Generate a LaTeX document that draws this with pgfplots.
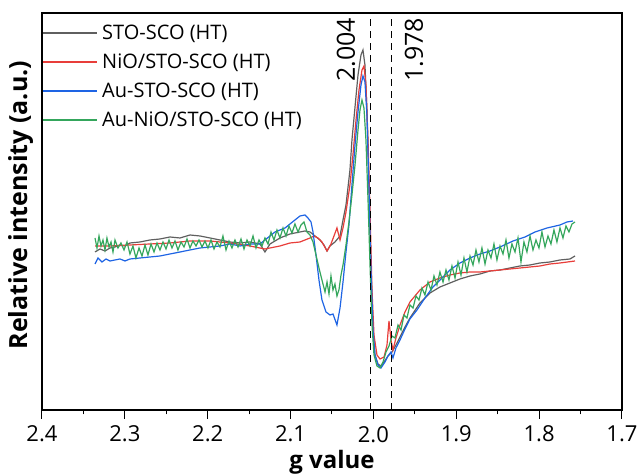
\documentclass[border=0pt]{standalone}
\usepackage{pgfplots}
\pgfplotsset{compat=1.18}
\usepackage{fontspec}
\setmainfont{Open Sans}
\definecolor{cgray}{RGB}{95,95,95}
\definecolor{cred}{RGB}{232,62,58}
\definecolor{cblue}{RGB}{30,100,228}
\definecolor{cgreen}{RGB}{52,166,92}
\begin{document}
\begin{tikzpicture}
\begin{axis}[
  scale only axis, width=290pt, height=198.5pt,
  x dir=reverse, xmin=1.7, xmax=2.4, ymin=-410, ymax=-13,
  xtick={1.7,1.8,1.9,2.0,2.1,2.2,2.3,2.4},
  xticklabels={1.7,1.8,1.9,2.0,2.1,2.2,2.3,2.4},
  minor x tick num=1, ytick=\empty,
  xtick pos=bottom, tick align=outside,
  major tick length=4.5pt, minor tick length=2.2pt,
  every tick/.style={black, line width=0.5pt},
  axis line style={line width=0.6pt},
  ticklabel style={font=\fontsize{11}{13}\selectfont},
  xlabel={\textbf{g value}}, ylabel={\textbf{Relative intensity (a.u.)}},
  xlabel style={at={(axis description cs:0.5,-0.131)}, anchor=center, font=\fontsize{12}{14}\selectfont},
  ylabel style={at={(axis description cs:-0.037,0.516)}, anchor=center, font=\fontsize{12.5}{15}\selectfont},
  legend style={at={(axis description cs:0,0.988)}, anchor=north west, draw=none, fill=none,
    font=\fontsize{10}{12}\selectfont, inner xsep=0pt, inner ysep=1.5pt, row sep=1.6pt},
  legend cell align=left,
  legend image code/.code={\draw[#1, line width=0.9pt] (0pt,0.3pt) -- (27pt,0.3pt);},
  every axis plot/.append style={line width=0.6pt},
  clip=false,
]
\addplot[color=cgray] coordinates {
(2.3360,-252) (2.3300,-249) (2.3240,-251) (2.3179,-248) (2.3119,-247) (2.3059,-245) (2.2998,-246) (2.2938,-243)
(2.2817,-242) (2.2697,-240) (2.2576,-239) (2.2455,-237) (2.2334,-238) (2.2214,-235) (2.2093,-236) (2.1972,-238)
(2.1852,-240) (2.1731,-242) (2.1610,-243) (2.1490,-242) (2.1369,-244) (2.1309,-252) (2.1248,-244) (2.1128,-238)
(2.1007,-234) (2.0886,-232) (2.0826,-231) (2.0765,-232) (2.0705,-236) (2.0645,-240) (2.0597,-245) (2.0560,-251)
(2.0524,-246) (2.0464,-242) (2.0403,-236) (2.0367,-220) (2.0331,-205) (2.0283,-170) (2.0259,-140) (2.0222,-107)
(2.0186,-75) (2.0150,-55) (2.0126,-50) (2.0102,-65) (2.0078,-110) (2.0053,-190) (2.0029,-270) (2.0005,-330)
(1.9981,-355) (1.9945,-364) (1.9909,-366) (1.9872,-362) (1.9824,-356) (1.9776,-352) (1.9728,-345) (1.9679,-337)
(1.9619,-327) (1.9559,-318) (1.9438,-303) (1.9317,-293) (1.9197,-287) (1.9076,-283) (1.8955,-279) (1.8834,-276)
(1.8714,-274) (1.8593,-271) (1.8472,-270) (1.8352,-268) (1.8231,-266) (1.8110,-265) (1.7990,-263) (1.7869,-262)
(1.7748,-260) (1.7628,-259) (1.7567,-256)
};
\addlegendentry{STO-SCO (HT)}
\addplot[color=cred] coordinates {
(2.3360,-246) (2.3179,-246) (2.2938,-245) (2.2697,-244) (2.2455,-243) (2.2214,-241) (2.1972,-241) (2.1731,-243)
(2.1490,-246) (2.1309,-249) (2.1248,-248) (2.1128,-246) (2.1007,-243) (2.0886,-242) (2.0765,-238) (2.0717,-236)
(2.0669,-238) (2.0621,-242) (2.0560,-251) (2.0512,-244) (2.0476,-236) (2.0440,-228) (2.0403,-240) (2.0367,-228)
(2.0331,-212) (2.0283,-185) (2.0247,-155) (2.0210,-120) (2.0174,-90) (2.0138,-70) (2.0114,-66) (2.0090,-85)
(2.0065,-140) (2.0041,-210) (2.0017,-290) (1.9993,-335) (1.9957,-355) (1.9921,-359) (1.9872,-357) (1.9836,-345)
(1.9812,-321) (1.9788,-340) (1.9764,-350) (1.9728,-338) (1.9679,-325) (1.9619,-312) (1.9559,-302) (1.9438,-290)
(1.9317,-282) (1.9197,-278) (1.9076,-275) (1.8955,-273) (1.8834,-272) (1.8714,-272) (1.8593,-271) (1.8472,-270)
(1.8352,-269) (1.8231,-268) (1.8110,-267) (1.7990,-266) (1.7869,-264) (1.7748,-263) (1.7567,-261)
};
\addlegendentry{NiO/STO-SCO (HT)}
\addplot[color=cblue] coordinates {
(2.3360,-264) (2.3324,-258) (2.3276,-262) (2.3228,-259) (2.3179,-261) (2.3119,-260) (2.3059,-259) (2.2998,-261)
(2.2938,-259) (2.2817,-258) (2.2697,-257) (2.2576,-256) (2.2455,-254) (2.2334,-252) (2.2214,-250) (2.2093,-248)
(2.1972,-247) (2.1852,-246) (2.1731,-244) (2.1610,-246) (2.1490,-244) (2.1369,-244) (2.1309,-240) (2.1248,-236)
(2.1188,-232) (2.1128,-230) (2.1067,-228) (2.1007,-224) (2.0947,-220) (2.0886,-216) (2.0826,-215) (2.0790,-218)
(2.0753,-222) (2.0729,-232) (2.0693,-255) (2.0657,-280) (2.0621,-300) (2.0572,-312) (2.0524,-315) (2.0488,-314)
(2.0440,-325) (2.0403,-308) (2.0367,-282) (2.0331,-252) (2.0295,-225) (2.0259,-185) (2.0222,-145) (2.0186,-112)
(2.0150,-85) (2.0126,-76) (2.0102,-82) (2.0078,-115) (2.0053,-190) (2.0029,-270) (2.0005,-330) (1.9981,-355)
(1.9945,-365) (1.9909,-368) (1.9860,-362) (1.9824,-356) (1.9788,-352) (1.9764,-358) (1.9728,-348) (1.9679,-340)
(1.9619,-329) (1.9559,-319) (1.9474,-310) (1.9378,-298) (1.9281,-287) (1.9197,-280) (1.9076,-270) (1.8955,-263)
(1.8834,-258) (1.8714,-254) (1.8593,-251) (1.8472,-247) (1.8315,-241) (1.8171,-237) (1.8050,-232) (1.7905,-228)
(1.7748,-225) (1.7664,-222) (1.7591,-221)
};
\addlegendentry{Au-STO-SCO (HT)}
\addplot[color=cgreen] coordinates {
(2.3360,-238) (2.3336,-248) (2.3312,-236) (2.3288,-246) (2.3264,-240) (2.3240,-250) (2.3216,-238) (2.3191,-247)
(2.3167,-242) (2.3143,-252) (2.3119,-240) (2.3083,-248) (2.3047,-243) (2.3010,-250) (2.2974,-242) (2.2938,-254)
(2.2902,-246) (2.2866,-258) (2.2829,-248) (2.2793,-256) (2.2757,-245) (2.2721,-255) (2.2684,-244) (2.2648,-252)
(2.2612,-243) (2.2576,-250) (2.2540,-242) (2.2503,-249) (2.2467,-240) (2.2431,-248) (2.2395,-241) (2.2359,-250)
(2.2322,-242) (2.2286,-247) (2.2250,-239) (2.2214,-248) (2.2178,-241) (2.2141,-246) (2.2105,-240) (2.2069,-247)
(2.2033,-241) (2.1997,-248) (2.1960,-240) (2.1924,-249) (2.1888,-242) (2.1852,-247) (2.1816,-236) (2.1779,-250)
(2.1743,-241) (2.1707,-248) (2.1671,-240) (2.1634,-247) (2.1598,-239) (2.1562,-249) (2.1526,-240) (2.1490,-246)
(2.1453,-236) (2.1417,-248) (2.1381,-240) (2.1345,-246) (2.1309,-238) (2.1272,-244) (2.1236,-232) (2.1200,-240)
(2.1164,-230) (2.1128,-238) (2.1091,-228) (2.1055,-236) (2.1019,-226) (2.0983,-233) (2.0947,-224) (2.0910,-232)
(2.0874,-225) (2.0838,-222) (2.0802,-232) (2.0766,-235) (2.0729,-242) (2.0693,-255) (2.0657,-268) (2.0621,-280)
(2.0584,-292) (2.0560,-282) (2.0536,-294) (2.0512,-276) (2.0488,-290) (2.0464,-284) (2.0440,-296) (2.0416,-290)
(2.0391,-275) (2.0367,-265) (2.0331,-245) (2.0295,-222) (2.0259,-195) (2.0222,-165) (2.0186,-130) (2.0162,-110)
(2.0138,-100) (2.0114,-108) (2.0090,-140) (2.0065,-200) (2.0041,-265) (2.0017,-325) (1.9993,-355) (1.9957,-366)
(1.9921,-368) (1.9884,-362) (1.9848,-352) (1.9812,-346) (1.9776,-336) (1.9740,-338) (1.9703,-325) (1.9667,-330)
(1.9631,-315) (1.9595,-318) (1.9559,-305) (1.9522,-308) (1.9486,-296) (1.9450,-300) (1.9414,-288) (1.9378,-295)
(1.9341,-282) (1.9305,-290) (1.9269,-276) (1.9233,-285) (1.9197,-272) (1.9160,-282) (1.9124,-270) (1.9088,-280)
(1.9052,-266) (1.9015,-278) (1.8979,-262) (1.8943,-275) (1.8907,-258) (1.8871,-272) (1.8834,-256) (1.8798,-265)
(1.8762,-250) (1.8726,-262) (1.8690,-248) (1.8653,-264) (1.8617,-250) (1.8581,-258) (1.8545,-244) (1.8509,-260)
(1.8472,-246) (1.8436,-254) (1.8400,-240) (1.8364,-258) (1.8328,-244) (1.8291,-252) (1.8255,-238) (1.8219,-262)
(1.8183,-242) (1.8147,-252) (1.8110,-236) (1.8074,-250) (1.8038,-240) (1.8002,-248) (1.7966,-232) (1.7929,-247)
(1.7893,-236) (1.7857,-244) (1.7821,-230) (1.7785,-242) (1.7748,-228) (1.7712,-238) (1.7676,-226) (1.7640,-232)
(1.7603,-224) (1.7567,-222)
};
\addlegendentry{Au-NiO/STO-SCO (HT)}
\addplot[black, line width=0.6pt, dash pattern=on 3.5pt off 2.5pt, forget plot] coordinates {(2.004,-410) (2.004,-13)};
\addplot[black, line width=0.6pt, dash pattern=on 3.5pt off 2.5pt, forget plot] coordinates {(1.978,-410) (1.978,-13)};
\node[rotate=90, font=\fontsize{12.5}{14}\selectfont] at (axis cs:2.0331,-50) {2.004};
\node[rotate=90, font=\fontsize{12.5}{14}\selectfont] at (axis cs:1.9510,-50) {1.978};
\end{axis}
\pgfresetboundingbox
\useasboundingbox (-21pt,-32pt) rectangle (298pt,205pt);
\end{tikzpicture}
\end{document}
